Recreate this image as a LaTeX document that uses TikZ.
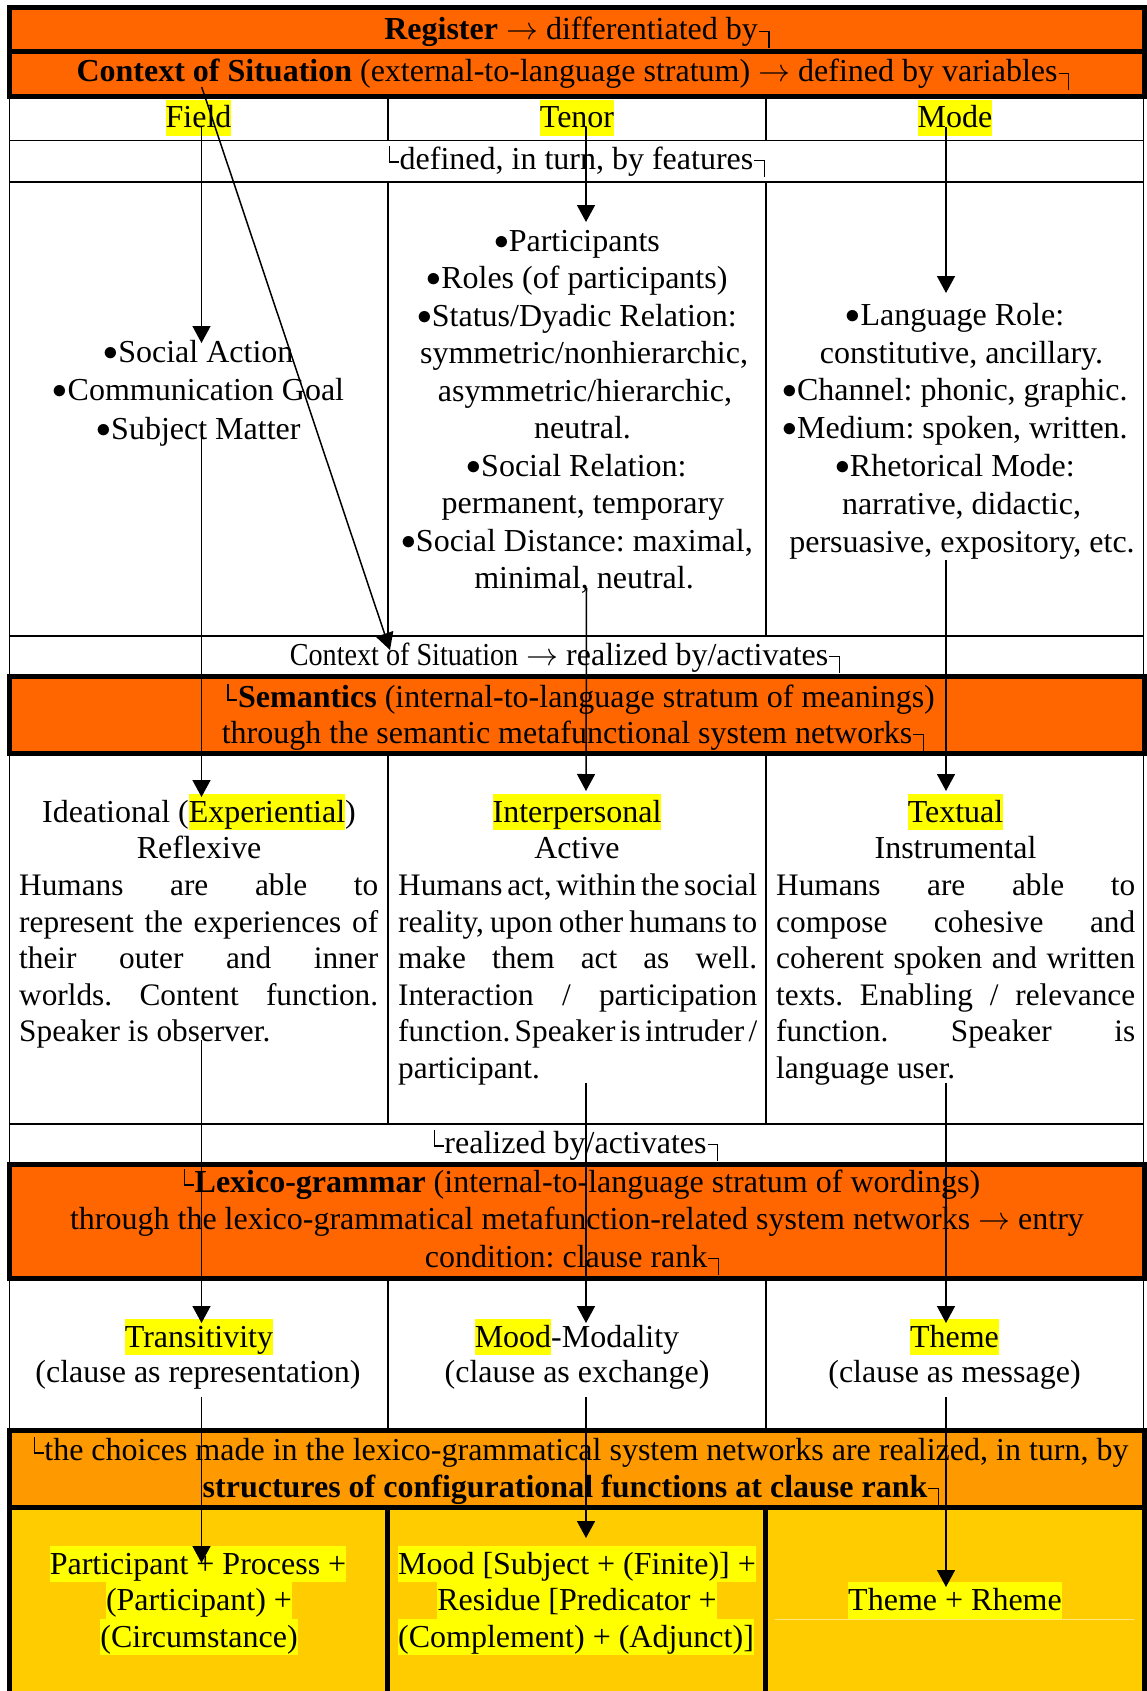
\documentclass[tikz,border=0pt]{standalone}
\usepackage{fontspec}
\usepackage{graphicx}
\setmainfont{Liberation Serif}
\usetikzlibrary{arrows.meta}

\definecolor{stratum}{HTML}{FF6600}
\definecolor{choicebar}{HTML}{FF9900}
\definecolor{structrow}{HTML}{FFCC00}
\definecolor{marker}{HTML}{FFFF00}
\definecolor{paleline}{HTML}{FFE680}

% corner marks that open and close the linking phrases
\newcommand\rcorner{\hbox{\kern0.03em\vrule width 0.34em height 0.29em depth -0.245em\kern-0.045em\vrule width 0.045em height 0.29em depth 0.25em}}
\newcommand\lcorner{\hbox{\vrule width 0.045em height 0.72em depth -0.2em\kern-0.045em\vrule width 0.32em height 0.245em depth -0.2em\kern0.02em}}
% yellow text marker
\newcommand\hlt[1]{{\setlength{\fboxsep}{0pt}\colorbox{marker}{\vrule width 0pt height 0.88em depth 0.25em\relax #1}}}
% list bullet and arrow, sized to the running text
\newcommand\bul{\hbox to 0.46em{\raisebox{0.06em}{\resizebox{0.46em}{!}{$\bullet$}}\hss}}
\newcommand\ra{\resizebox{1em}{!}{$\rightarrow$}}
% one fully justified line of a given width
\newcommand\jline[2]{\makebox[#1][s]{\spaceskip=0.25em plus 1em minus 0.15em\relax #2}}

\begin{document}
\frenchspacing
\begin{tikzpicture}[x=1pt,y=-1pt,
  txt/.style={font=\fontsize{32}{37.5}\selectfont,inner sep=0pt,anchor=base},
  jl/.style={txt,font=\fontsize{31.3}{37}\selectfont,anchor=base west},
  thinrule/.style={line width=1.6pt},
  heavyrule/.style={line width=5pt},
  link/.style={line width=1.5pt},
  arrowlink/.style={link,-{Triangle[width=18pt,length=17pt]}}]

\useasboundingbox (0,0) rectangle (1147,1691);
\fill[white] (0,0) rectangle (1147,1691);

% ---------- cell fills ----------
\fill[stratum] (9.5,7.5) rectangle (1144.5,97);
\fill[stratum] (9.5,676) rectangle (1144.5,753);
\fill[stratum] (9.5,1164) rectangle (1144.5,1278);
\fill[choicebar] (9.5,1430) rectangle (1144.5,1507);
\fill[structrow] (9.5,1507) rectangle (1144.5,1691);
\draw[paleline,line width=1pt] (775,1619) -- (1134,1619);

% ---------- thin grid ----------
\draw[thinrule] (9.5,97) -- (9.5,676) (1143.5,97) -- (1143.5,676);
\draw[thinrule] (9.5,753) -- (9.5,1164) (1143.5,753) -- (1143.5,1164);
\draw[thinrule] (9.5,1278) -- (9.5,1430) (1143.5,1278) -- (1143.5,1430);
\draw[thinrule] (9.5,140.5) -- (1143.5,140.5) (9.5,182) -- (1143.5,182)
  (9.5,636) -- (1143.5,636) (9.5,1124) -- (1143.5,1124);
\foreach \cx in {388,766}{
  \draw[thinrule] (\cx,97) -- (\cx,140.5) (\cx,182) -- (\cx,636)
    (\cx,753) -- (\cx,1124) (\cx,1278) -- (\cx,1430);
}

% ---------- heavy borders ----------
\draw[heavyrule] (9.5,7.5) rectangle (1144.5,51.5);
\draw[heavyrule] (9.5,51.5) rectangle (1144.5,97);
\draw[heavyrule] (9.5,676) rectangle (1144.5,753);
\draw[heavyrule] (9.5,1164) rectangle (1144.5,1278);
\draw[heavyrule] (9.5,1430) rectangle (1144.5,1507);
\draw[heavyrule] (9.5,1507) -- (9.5,1691) (1144.5,1507) -- (1144.5,1691)
  (387.5,1507) -- (387.5,1691) (765.5,1507) -- (765.5,1691);

% ---------- register and context of situation ----------
\node[txt] (register) at (577,40) {\textbf{Register} \ra{} differentiated by\rcorner};
\node[txt] (context) at (573,82) {\textbf{Context of Situation} (external-to-language stratum) \ra{} defined by variables\rcorner};

\node[txt] (field) at (198.5,128) {\hlt{Field}};
\node[txt] (tenor) at (577,128) {\hlt{Tenor}};
\node[txt] (mode) at (955,128) {\hlt{Mode}};
\node[txt] (defined) at (577,169) {\lcorner defined, in turn, by features\rcorner};

% field features
\node[txt] (f1) at (198.5,362) {\bul Social Action};
\node[txt] (f2) at (198.5,400.5) {\bul Communication Goal};
\node[txt] (f3) at (198.5,439) {\bul Subject Matter};

% tenor features
\node[txt] (t1) at (577,251) {\bul Participants};
\node[txt] (t2) at (577,288.5) {\bul Roles (of participants)};
\node[txt] (t3) at (577,326) {\bul Status/Dyadic Relation:};
\node[txt] (t4) at (584,363.5) {symmetric/nonhierarchic,};
\node[txt] (t5) at (585,401) {asymmetric/hierarchic,};
\node[txt] (t6) at (582.5,438.5) {neutral.};
\node[txt] (t7) at (576.5,476) {\bul Social Relation:};
\node[txt] (t8) at (583,513.5) {permanent, temporary};
\node[txt] (t9) at (577,551) {\bul Social Distance: maximal,};
\node[txt] (t10) at (584,588.5) {minimal, neutral.};

% mode features
\node[txt] (m1) at (955,325) {\bul Language Role:};
\node[txt] (m2) at (961.5,363) {constitutive, ancillary.};
\node[txt] (m3) at (955,400.5) {\bul Channel: phonic, graphic.};
\node[txt] (m4) at (955,438.5) {\bul Medium: spoken, written.};
\node[txt] (m5) at (955,476.5) {\bul Rhetorical Mode:};
\node[txt] (m6) at (961.5,514) {narrative, didactic,};
\node[txt] (m7) at (962,552) {persuasive, expository, etc.};

\node[txt] (cosreal) at (565,665) {\scalebox{0.88}[1]{Context of Situation} \ra{} realized by/activates\rcorner};

% ---------- semantics ----------
\node[txt] (sem1) at (581,707) {\lcorner\textbf{Semantics} (internal-to-language stratum of meanings)};
\node[txt] (sem2) at (573,743) {through the semantic metafunctional system networks\rcorner};

\node[txt] (ideat) at (199,822) {Ideational (\hlt{Experiential})};
\node[txt] (reflex) at (199,858) {Reflexive};
\node[txt] (interp) at (577,822) {\hlt{Interpersonal}};
\node[txt] (active) at (577,858) {Active};
\node[txt] (textual) at (955.5,822) {\hlt{Textual}};
\node[txt] (instr) at (955.5,858) {Instrumental};

\node[jl] (i1) at (19,895) {\jline{359pt}{Humans are able to}};
\node[jl] (i2) at (19,932) {\jline{359pt}{represent the experiences of}};
\node[jl] (i3) at (19,968.5) {\jline{359pt}{their outer and inner}};
\node[jl] (i4) at (19,1005) {\jline{359pt}{worlds. Content function.}};
\node[jl] (i5) at (19,1041.5) {Speaker is observer.};

\node[jl] (p1) at (398,895) {\jline{359pt}{Humans act, within the social}};
\node[jl] (p2) at (398,932) {\jline{359pt}{reality, upon other humans to}};
\node[jl] (p3) at (398,968.5) {\jline{359pt}{make them act as well.}};
\node[jl] (p4) at (398,1005) {\jline{359pt}{Interaction / participation}};
\node[jl] (p5) at (398,1041.5) {\jline{359pt}{function. Speaker is intruder /}};
\node[jl] (p6) at (398,1078) {participant.};

\node[jl] (x1) at (776,895) {\jline{359pt}{Humans are able to}};
\node[jl] (x2) at (776,932) {\jline{359pt}{compose cohesive and}};
\node[jl] (x3) at (776,968.5) {\jline{359pt}{coherent spoken and written}};
\node[jl] (x4) at (776,1005) {\jline{359pt}{texts. Enabling / relevance}};
\node[jl] (x5) at (776,1041.5) {\jline{359pt}{function. Speaker is}};
\node[jl] (x6) at (776,1078) {language user.};

\node[txt] (realized) at (576,1153) {\lcorner realized by/activates\rcorner};

% ---------- lexico-grammar ----------
\node[txt] (lex1) at (582,1192) {\lcorner\textbf{Lexico-grammar} (internal-to-language stratum of wordings)};
\node[txt] (lex2) at (577,1229.5) {through the lexico-grammatical metafunction-related system networks \ra{} entry};
\node[txt] (lex3) at (572,1267) {condition: clause rank\rcorner};

\node[txt] (transit) at (199,1347) {\hlt{Transitivity}};
\node[txt] (transitsub) at (198,1382) {(clause as representation)};
\node[txt] (moodmod) at (577,1347) {\hlt{Mood}-Modality};
\node[txt] (moodsub) at (577,1382) {(clause as exchange)};
\node[txt] (theme) at (954.5,1347) {\hlt{Theme}};
\node[txt] (themesub) at (954.5,1382) {(clause as message)};

\node[txt] (ch1) at (581,1460) {\lcorner the choices made in the lexico-grammatical system networks are realized, in turn, by};
\node[txt] (ch2) at (571,1497) {\textbf{structures of configurational functions at clause rank}\rcorner};

% ---------- configurational structures ----------
\node[txt] (s1) at (198,1574) {\hlt{Participant + Process +}};
\node[txt] (s2) at (199,1610.5) {\hlt{(Participant) +}};
\node[txt] (s3) at (199,1647) {\hlt{(Circumstance)}};
\node[txt] (r1) at (577,1574) {\hlt{Mood [Subject + (Finite)] +}};
\node[txt] (r2) at (577,1610.5) {\hlt{Residue [Predicator +}};
\node[txt] (r3) at (576,1647) {\hlt{(Complement) + (Adjunct)]}};
\node[txt] (tr) at (955,1610.5) {\hlt{Theme + Rheme}};

% ---------- realization arrows ----------
\coordinate (fa0) at (201.5,127);  \coordinate (fa1) at (201.5,343);
\coordinate (fb0) at (201.5,437);  \coordinate (fb1) at (201.5,797);
\coordinate (fc0) at (201.5,1040); \coordinate (fc1) at (201.5,1323);
\coordinate (fd0) at (201.5,1397); \coordinate (fd1) at (201.5,1563);

\coordinate (ta0) at (586,127);  \coordinate (ta1) at (586,222);
\coordinate (tb0) at (586.5,588); \coordinate (tb1) at (586,791);
\coordinate (tc0) at (586,1083); \coordinate (tc1) at (586,1323);
\coordinate (td0) at (586,1397); \coordinate (td1) at (586,1538);

\coordinate (ma0) at (946,127);  \coordinate (ma1) at (946,293);
\coordinate (mb0) at (946,560);  \coordinate (mb1) at (946,791);
\coordinate (mc0) at (946,1083); \coordinate (mc1) at (946,1323);
\coordinate (md0) at (946,1397); \coordinate (md1) at (946,1587);

\coordinate (da0) at (201.7,87); \coordinate (da1) at (390,650);

\draw[arrowlink] (fa0) -- (fa1);
\draw[arrowlink] (fb0) -- (fb1);
\draw[arrowlink] (fc0) -- (fc1);
\draw[arrowlink] (fd0) -- (fd1);
\draw[arrowlink] (ta0) -- (ta1);
\draw[arrowlink] (tb0) -- (tb1);
\draw[arrowlink] (tc0) -- (tc1);
\draw[arrowlink] (td0) -- (td1);
\draw[arrowlink] (ma0) -- (ma1);
\draw[arrowlink] (mb0) -- (mb1);
\draw[arrowlink] (mc0) -- (mc1);
\draw[arrowlink] (md0) -- (md1);
\draw[arrowlink] (da0) -- (da1);
\end{tikzpicture}
\end{document}
